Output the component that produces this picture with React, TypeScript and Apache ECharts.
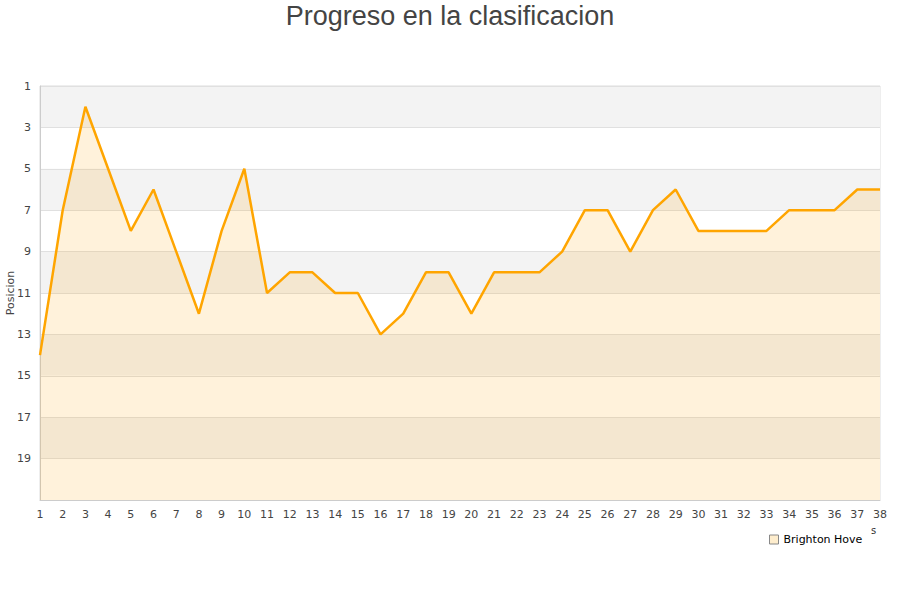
import React, { useEffect, useRef } from "react";
import * as echarts from "echarts";

const jornadas: string[] = Array.from({ length: 38 }, (_, i) => String(i + 1));
const posiciones: number[] = [
  14, 7, 2, 5, 8, 6, 9, 12, 8, 5,
  11, 10, 10, 11, 11, 13, 12, 10, 10, 12,
  10, 10, 10, 9, 7, 7, 9, 7, 6, 8,
  8, 8, 8, 7, 7, 7, 6, 6,
];
const teamName = "Brighton Hove";
const titleText = "Progreso en la clasificacion";
const yName = "Posicion";

export default function App() {
  const ref = useRef<HTMLDivElement>(null);
  useEffect(() => {
    if (!ref.current) return;
    const chart = echarts.init(ref.current, undefined, { renderer: "svg" });
    chart.setOption({
      animation: false,
      backgroundColor: "#ffffff",
      textStyle: { fontFamily: "DejaVu Sans" },
      title: {
        text: titleText,
        left: "center",
        top: -3,
        textStyle: {
          fontFamily: "Liberation Sans",
          fontSize: 27,
          fontWeight: "normal",
          color: "#444444",
        },
      },
      grid: {
        left: 40,
        right: 20,
        top: 86,
        bottom: 100,
        show: true,
        borderColor: "#dddddd",
        borderWidth: 1,
        containLabel: false,
        outerBoundsMode: "none",
      },
      legend: {
        data: [
          {
            name: teamName,
            icon: "rect",
            itemStyle: { color: "#feedcd", borderColor: "#888888", borderWidth: 1 },
            lineStyle: { width: 0, opacity: 0 },
          },
        ],
        left: 764,
        top: 529,
        itemWidth: 9,
        itemHeight: 9,
        itemGap: 5,
        textStyle: {
          fontFamily: "DejaVu Sans",
          fontSize: 11,
          color: "#000000",
        },
      },
      xAxis: {
        type: "category",
        data: jornadas,
        boundaryGap: false,
        axisLine: { show: true, lineStyle: { color: "#cccccc" } },
        axisTick: { show: false },
        axisLabel: {
          interval: 0,
          color: "#444444",
          fontSize: 11,
          margin: 9,
          fontFamily: "DejaVu Sans",
        },
        splitLine: { show: false },
      },
      yAxis: {
        type: "value",
        inverse: true,
        min: 1,
        max: 21,
        interval: 2,
        name: yName,
        nameLocation: "middle",
        nameGap: 24,
        nameMoveOverlap: false,
        nameTextStyle: { fontSize: 11, color: "#444444", fontFamily: "DejaVu Sans" },
        axisLine: { show: true, lineStyle: { color: "#cccccc" } },
        axisTick: { show: false },
        axisLabel: {
          color: "#444444",
          fontSize: 11,
          margin: 9,
          fontFamily: "DejaVu Sans",
          formatter: (v: number) => (v === 21 ? "" : String(v)),
        },
        splitLine: { show: true, lineStyle: { color: "#e0e0e0" } },
        splitArea: { show: true, areaStyle: { color: ["#f3f3f3", "#ffffff"] } },
      },
      series: [
        {
          name: teamName,
          type: "line",
          data: posiciones,
          symbol: "none",
          lineStyle: { color: "#ffa500", width: 2.5 },
          itemStyle: { color: "#ffa500" },
          areaStyle: { color: "rgba(255,165,0,0.2)", origin: "end" },
        },
      ],
      graphic: [
        {
          type: "text",
          left: 871,
          top: 525,
          style: { text: "s", fontSize: 10, fill: "#333333", fontFamily: "DejaVu Sans" },
        },
      ],
    });
    return () => chart.dispose();
  }, []);
  return (
    <div
      ref={ref}
      style={{ position: "absolute", left: 0, top: 0, width: 900, height: 600 }}
    />
  );
}
